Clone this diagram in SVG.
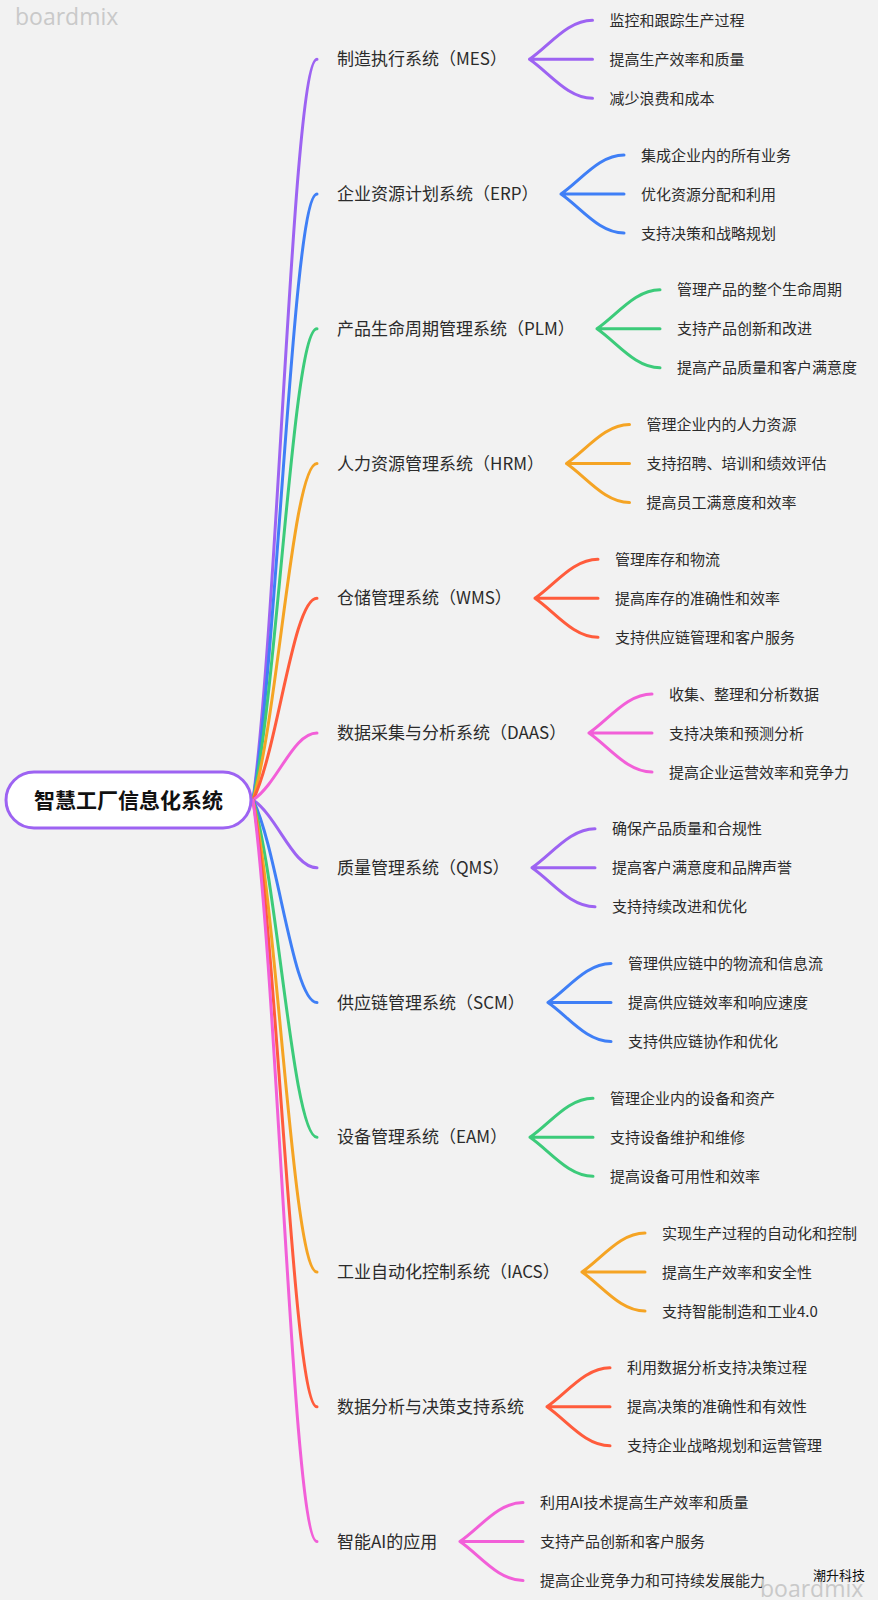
<svg xmlns="http://www.w3.org/2000/svg" width="878" height="1600" viewBox="0 0 878 1600">
<style>
.bg{fill:#f2f2f2}
.wm{font-family:"Open Sans","Noto Sans",sans-serif;font-size:23px;fill:#c9c9c9}
.c{fill:none;stroke-width:3;stroke-linecap:round}
.pu{stroke:#9d63f2}.bl{stroke:#3f7ff6}.gr{stroke:#3ccb7a}.or{stroke:#f5a424}.rd{stroke:#ff5c3c}.pk{stroke:#f25fd8}
.l1{font-family:"Noto Sans CJK SC","Noto Sans",sans-serif;font-size:17px;fill:#2b2b2b}
.l2{font-family:"Noto Sans CJK SC","Noto Sans",sans-serif;font-size:15px;fill:#2b2b2b}
.root{font-family:"Noto Sans CJK SC","Noto Sans",sans-serif;font-size:21px;font-weight:bold;fill:#111}
.sig{font-family:"Noto Sans CJK SC",sans-serif;font-size:13px;fill:#111}
</style>
<rect class="bg" x="0" y="0" width="878" height="1600"/>
<text class="wm" x="15" y="25">boardmix</text>

<g id="connectors">
<path class="c pu" d="M253 800 C278 614.8 293 59.2 317 59.2"/>
<path class="c bl" d="M253 800 C278 648.5 293 194 317 194"/>
<path class="c gr" d="M253 800 C278 682.2 293 328.7 317 328.7"/>
<path class="c or" d="M253 800 C278 715.9 293 463.5 317 463.5"/>
<path class="c rd" d="M253 800 C278 749.6 293 598.2 317 598.2"/>
<path class="c pk" d="M253 800 C278 783.2 293 733 317 733"/>
<path class="c pu" d="M253 800 C278 816.9 293 867.7 317 867.7"/>
<path class="c bl" d="M253 800 C278 850.6 293 1002.5 317 1002.5"/>
<path class="c gr" d="M253 800 C278 884.3 293 1137.2 317 1137.2"/>
<path class="c or" d="M253 800 C278 918 293 1272 317 1272"/>
<path class="c rd" d="M253 800 C278 951.7 293 1406.7 317 1406.7"/>
<path class="c pk" d="M253 800 C278 985.4 293 1541.5 317 1541.5"/>

<path class="c pu" d="M529.5 59.2 C549.5 45.5 567.5 20.2 592.5 20.2 M529.5 59.2 H592.5 M529.5 59.2 C549.5 72.9 567.5 98.2 592.5 98.2"/>
<path class="c bl" d="M561 194 C581 180.3 599 155 624 155 M561 194 H624 M561 194 C581 207.7 599 233 624 233"/>
<path class="c gr" d="M597 328.7 C617 315 635 289.7 660 289.7 M597 328.7 H660 M597 328.7 C617 342.4 635 367.7 660 367.7"/>
<path class="c or" d="M566.5 463.5 C586.5 449.8 604.5 424.5 629.5 424.5 M566.5 463.5 H629.5 M566.5 463.5 C586.5 477.2 604.5 502.5 629.5 502.5"/>
<path class="c rd" d="M535 598.2 C555 584.5 573 559.2 598 559.2 M535 598.2 H598 M535 598.2 C555 611.9 573 637.2 598 637.2"/>
<path class="c pk" d="M589 733 C609 719.3 627 694 652 694 M589 733 H652 M589 733 C609 746.7 627 772 652 772"/>
<path class="c pu" d="M532 867.7 C552 854 570 828.7 595 828.7 M532 867.7 H595 M532 867.7 C552 881.4 570 906.7 595 906.7"/>
<path class="c bl" d="M548 1002.5 C568 988.8 586 963.5 611 963.5 M548 1002.5 H611 M548 1002.5 C568 1016.2 586 1041.5 611 1041.5"/>
<path class="c gr" d="M530 1137.2 C550 1123.5 568 1098.2 593 1098.2 M530 1137.2 H593 M530 1137.2 C550 1150.9 568 1176.2 593 1176.2"/>
<path class="c or" d="M582 1272 C602 1258.3 620 1233 645 1233 M582 1272 H645 M582 1272 C602 1285.7 620 1311 645 1311"/>
<path class="c rd" d="M547 1406.7 C567 1393 585 1367.7 610 1367.7 M547 1406.7 H610 M547 1406.7 C567 1420.4 585 1445.7 610 1445.7"/>
<path class="c pk" d="M460 1541.5 C480 1527.8 498 1502.5 523 1502.5 M460 1541.5 H523 M460 1541.5 C480 1555.2 498 1580.5 523 1580.5"/>
</g>

<g id="root">
<rect x="6" y="772" width="245" height="56" rx="28" fill="#ffffff" stroke="#9d63f2" stroke-width="3"/>
<text class="root" x="128.5" y="807.5" text-anchor="middle">智慧工厂信息化系统</text>
</g>

<g id="n-mes">
<text class="l1" x="337" y="65.2">制造执行系统（MES）</text>
<text class="l2" x="609.5" y="25.7">监控和跟踪生产过程</text>
<text class="l2" x="609.5" y="64.7">提高生产效率和质量</text>
<text class="l2" x="609.5" y="103.7">减少浪费和成本</text>
</g>
<g id="n-erp">
<text class="l1" x="337" y="200">企业资源计划系统（ERP）</text>
<text class="l2" x="641" y="160.5">集成企业内的所有业务</text>
<text class="l2" x="641" y="199.5">优化资源分配和利用</text>
<text class="l2" x="641" y="238.5">支持决策和战略规划</text>
</g>
<g id="n-plm">
<text class="l1" x="337" y="334.7">产品生命周期管理系统（PLM）</text>
<text class="l2" x="677" y="295.2">管理产品的整个生命周期</text>
<text class="l2" x="677" y="334.2">支持产品创新和改进</text>
<text class="l2" x="677" y="373.2">提高产品质量和客户满意度</text>
</g>
<g id="n-hrm">
<text class="l1" x="337" y="469.5">人力资源管理系统（HRM）</text>
<text class="l2" x="646.5" y="430">管理企业内的人力资源</text>
<text class="l2" x="646.5" y="469">支持招聘、培训和绩效评估</text>
<text class="l2" x="646.5" y="508">提高员工满意度和效率</text>
</g>
<g id="n-wms">
<text class="l1" x="337" y="604.2">仓储管理系统（WMS）</text>
<text class="l2" x="615" y="564.7">管理库存和物流</text>
<text class="l2" x="615" y="603.7">提高库存的准确性和效率</text>
<text class="l2" x="615" y="642.7">支持供应链管理和客户服务</text>
</g>
<g id="n-daas">
<text class="l1" x="337" y="739">数据采集与分析系统（DAAS）</text>
<text class="l2" x="669" y="699.5">收集、整理和分析数据</text>
<text class="l2" x="669" y="738.5">支持决策和预测分析</text>
<text class="l2" x="669" y="777.5">提高企业运营效率和竞争力</text>
</g>
<g id="n-qms">
<text class="l1" x="337" y="873.7">质量管理系统（QMS）</text>
<text class="l2" x="612" y="834.2">确保产品质量和合规性</text>
<text class="l2" x="612" y="873.2">提高客户满意度和品牌声誉</text>
<text class="l2" x="612" y="912.2">支持持续改进和优化</text>
</g>
<g id="n-scm">
<text class="l1" x="337" y="1008.5">供应链管理系统（SCM）</text>
<text class="l2" x="628" y="969">管理供应链中的物流和信息流</text>
<text class="l2" x="628" y="1008">提高供应链效率和响应速度</text>
<text class="l2" x="628" y="1047">支持供应链协作和优化</text>
</g>
<g id="n-eam">
<text class="l1" x="337" y="1143.2">设备管理系统（EAM）</text>
<text class="l2" x="610" y="1103.7">管理企业内的设备和资产</text>
<text class="l2" x="610" y="1142.7">支持设备维护和维修</text>
<text class="l2" x="610" y="1181.7">提高设备可用性和效率</text>
</g>
<g id="n-iacs">
<text class="l1" x="337" y="1278">工业自动化控制系统（IACS）</text>
<text class="l2" x="662" y="1238.5">实现生产过程的自动化和控制</text>
<text class="l2" x="662" y="1277.5">提高生产效率和安全性</text>
<text class="l2" x="662" y="1316.5">支持智能制造和工业4.0</text>
</g>
<g id="n-dss">
<text class="l1" x="337" y="1412.7">数据分析与决策支持系统</text>
<text class="l2" x="627" y="1373.2">利用数据分析支持决策过程</text>
<text class="l2" x="627" y="1412.2">提高决策的准确性和有效性</text>
<text class="l2" x="627" y="1451.2">支持企业战略规划和运营管理</text>
</g>
<g id="n-ai">
<text class="l1" x="337" y="1547.5">智能AI的应用</text>
<text class="l2" x="540" y="1508">利用AI技术提高生产效率和质量</text>
<text class="l2" x="540" y="1547">支持产品创新和客户服务</text>
<text class="l2" x="540" y="1586">提高企业竞争力和可持续发展能力</text>
</g>

<text class="wm" x="760" y="1597">boardmix</text>
<text class="sig" x="813" y="1580">潮升科技</text>
</svg>
